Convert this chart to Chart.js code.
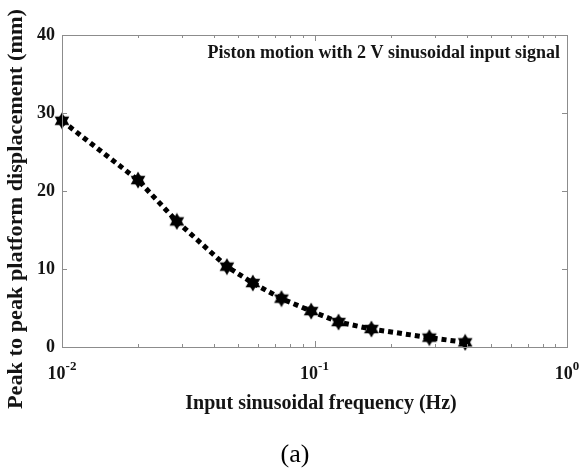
<!DOCTYPE html>
<html>
<head>
<meta charset="utf-8">
<script src="https://cdn.jsdelivr.net/npm/chart.js@4/dist/chart.umd.min.js"></script>
<style>
html,body{margin:0;padding:0;background:#fff;}
#wrap{width:581px;height:469px;}
</style>
</head>
<body>
<div id="wrap"><canvas id="c" width="581" height="469"></canvas></div>
<script>
// ---- data ----
const freqHz = [0.01, 0.02, 0.0285, 0.045, 0.057, 0.074, 0.097, 0.1245, 0.168, 0.285, 0.395];
const displacementMm = [29.0, 21.4, 16.1, 10.3, 8.2, 6.2, 4.6, 3.2, 2.3, 1.2, 0.6];
const yTickValues = [0, 10, 20, 30, 40];
const xTickExponents = [-2, -1, 0];
const titleText = 'Piston motion with 2 V sinusoidal input signal';
const xTitle = 'Input sinusoidal frequency (Hz)';
const yTitle = 'Peak to peak platform displacement (mm)';
const captionText = '(a)';

const SERIF = '"Liberation Serif", "Times New Roman", serif';
const AXIS_COLOR = '#8c8c8c';
const TEXT_COLOR = '#141414';

// hexagram marker
function makeHexagram(size) {
  const cv = document.createElement('canvas');
  cv.width = size; cv.height = size;
  const g = cv.getContext('2d');
  const c = size / 2, r = size / 2 - 0.5;
  g.fillStyle = '#000';
  for (let k = 0; k < 2; k++) {
    g.beginPath();
    for (let i = 0; i < 3; i++) {
      const a = -Math.PI / 2 + k * Math.PI + i * 2 * Math.PI / 3;
      const px = c + r * Math.cos(a), py = c + r * Math.sin(a);
      if (i === 0) g.moveTo(px, py); else g.lineTo(px, py);
    }
    g.closePath();
    g.fill();
  }
  g.beginPath();
  g.arc(c, c, r * 0.6, 0, Math.PI * 2);
  g.fill();
  return cv;
}
const hexMarker = makeHexagram(18);

// minor/major tick values for the log axis
const xAllTicks = [];
for (let e = -2; e <= -1; e++) {
  for (let m = 1; m <= 9; m++) xAllTicks.push(m * Math.pow(10, e));
}
xAllTicks.push(1);

function fitText(ctx, text, x, y, targetLen, rotate) {
  const w = ctx.measureText(text).width;
  const s = targetLen / w;
  ctx.save();
  ctx.translate(x, y);
  if (rotate) ctx.rotate(-Math.PI / 2);
  ctx.scale(s, 1);
  ctx.fillText(text, 0, 0);
  ctx.restore();
}

const decorPlugin = {
  id: 'decor',
  afterDraw(chart) {
    const ctx = chart.ctx;
    const a = chart.chartArea;
    const xs = chart.scales.x, ys = chart.scales.y;
    ctx.save();
    // frame
    ctx.strokeStyle = AXIS_COLOR;
    ctx.lineWidth = 1;
    ctx.strokeRect(Math.round(a.left) + 0.5, Math.round(a.top) + 0.5,
      Math.round(a.right - a.left), Math.round(a.bottom - a.top));
    // x ticks (inside, top and bottom)
    ctx.beginPath();
    xAllTicks.forEach(v => {
      const px = Math.round(xs.getPixelForValue(v)) + 0.5;
      const isMajor = Math.abs(Math.log10(v) - Math.round(Math.log10(v))) < 1e-9;
      const len = isMajor ? 6 : 3;
      ctx.moveTo(px, a.bottom); ctx.lineTo(px, a.bottom - len);
      ctx.moveTo(px, a.top); ctx.lineTo(px, a.top + len);
    });
    // y ticks (inside, left and right)
    yTickValues.forEach(v => {
      const py = Math.round(ys.getPixelForValue(v)) + 0.5;
      ctx.moveTo(a.left, py); ctx.lineTo(a.left + 5, py);
      ctx.moveTo(a.right, py); ctx.lineTo(a.right - 5, py);
    });
    ctx.stroke();

    // x tick labels with superscript exponents
    ctx.fillStyle = TEXT_COLOR;
    ctx.textBaseline = 'alphabetic';
    xTickExponents.forEach(e => {
      const px = xs.getPixelForValue(Math.pow(10, e));
      ctx.font = 'bold 18px ' + SERIF;
      const base = '10';
      const wb = ctx.measureText(base).width;
      ctx.font = 'bold 13px ' + SERIF;
      const sup = e < 0 ? '-' + Math.abs(e) : String(e);
      const ws = ctx.measureText(sup).width;
      const x0 = px - (wb + ws) / 2;
      ctx.font = 'bold 18px ' + SERIF;
      ctx.textAlign = 'left';
      ctx.fillText(base, x0, a.bottom + 32);
      ctx.font = 'bold 13px ' + SERIF;
      ctx.fillText(sup, x0 + wb, a.bottom + 23);
    });

    // annotation title inside plot
    ctx.font = 'bold 18px ' + SERIF;
    ctx.textAlign = 'right';
    ctx.textBaseline = 'middle';
    ctx.fillText(titleText, 560, 53);

    // x axis title
    ctx.font = 'bold 20px ' + SERIF;
    ctx.textAlign = 'center';
    ctx.fillText(xTitle, 321, 404);

    // y axis title
    ctx.font = 'bold 20px ' + SERIF;
    fitText(ctx, yTitle, 17, 209, 400, true);

    // caption
    ctx.font = '26px ' + SERIF;
    ctx.fillStyle = '#000';
    ctx.fillText(captionText, 295, 455);
    ctx.restore();
  }
};

new Chart(document.getElementById('c'), {
  type: 'scatter',
  data: {
    datasets: [{
      data: freqHz.map((f, i) => ({ x: f, y: displacementMm[i] })),
      showLine: true,
      borderColor: '#000',
      borderWidth: 5,
      borderDash: [5, 4],
      borderCapStyle: 'butt',
      tension: 0,
      pointStyle: hexMarker,
      pointRadius: 9,
      pointHoverRadius: 9,
      backgroundColor: '#000',
      clip: false
    }]
  },
  options: {
    responsive: false,
    animation: false,
    events: [],
    layout: { padding: { top: 35, right: 13, left: 0, bottom: 0 } },
    plugins: { legend: { display: false }, tooltip: { enabled: false }, title: { display: false } },
    scales: {
      x: {
        type: 'logarithmic',
        min: 0.01,
        max: 1,
        grid: { display: false, drawTicks: false },
        border: { display: false },
        ticks: { display: false },
        afterFit(scale) { scale.height = 122; }
      },
      y: {
        type: 'linear',
        min: 0,
        max: 40,
        grid: { display: false, drawTicks: false },
        border: { display: false },
        afterBuildTicks(scale) { scale.ticks = yTickValues.map(v => ({ value: v })); },
        ticks: {
          color: TEXT_COLOR,
          padding: 7,
          font: { family: SERIF, size: 18, weight: 'bold' }
        },
        afterFit(scale) { scale.width = 62; }
      }
    }
  },
  plugins: [decorPlugin]
});
</script>
</body>
</html>
